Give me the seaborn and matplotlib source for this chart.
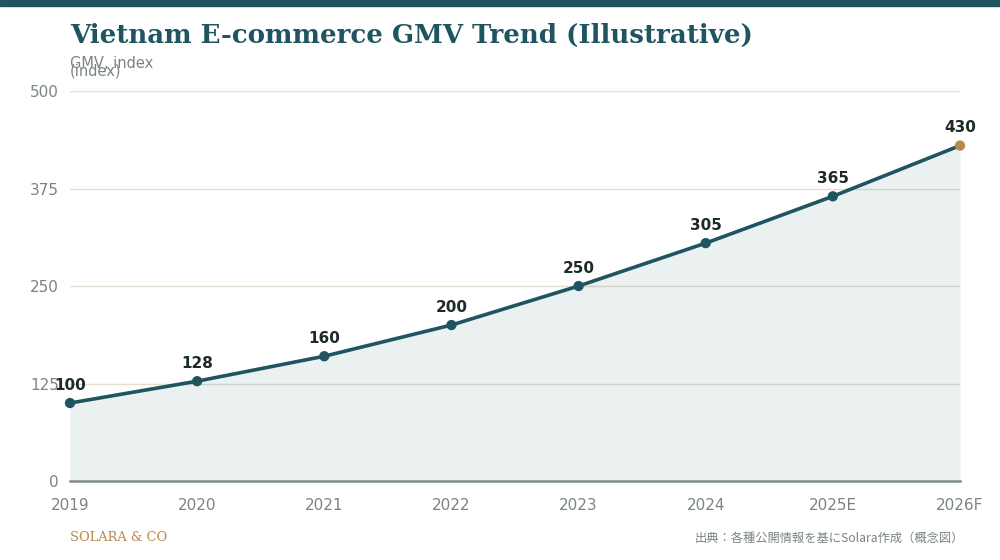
import matplotlib
matplotlib.use('Agg')
import matplotlib.pyplot as plt
import seaborn as sns
import pandas as pd
import numpy as np

# data
years = ['2019', '2020', '2021', '2022', '2023', '2024', '2025E', '2026F']
gmv_index = [100, 128, 160, 200, 250, 305, 365, 430]
y_ticks = [0, 125, 250, 375, 500]

TEAL = '#1f5560'
GOLD = '#b8894a'
GREY = '#7a8580'
GRID = '#e4ded3'

sns.set_theme(style='white')
plt.rcParams['font.family'] = ['DejaVu Sans', 'Noto Sans CJK JP']

df = pd.DataFrame({'pos': np.arange(len(years)), 'gmv': gmv_index})

fig = plt.figure(figsize=(10, 5.6), dpi=100)
ax = fig.add_axes([0.07, 0.141, 0.89, 0.6965])

for t in y_ticks[1:]:
    ax.axhline(t, color=GRID, lw=1, zorder=0)

ax.fill_between(df['pos'], df['gmv'], 0, color=TEAL, alpha=0.085, lw=0, zorder=1)
sns.lineplot(data=df, x='pos', y='gmv', ax=ax, color=TEAL, lw=2.6, zorder=3)
sns.scatterplot(data=df.iloc[:-1], x='pos', y='gmv', ax=ax, color=TEAL, s=55,
                edgecolor='none', zorder=4, clip_on=False)
sns.scatterplot(data=df.iloc[-1:], x='pos', y='gmv', ax=ax, color=GOLD, s=55,
                edgecolor='none', zorder=4, clip_on=False)

for x, v in zip(df['pos'], df['gmv']):
    ax.annotate(str(v), (x, v), xytext=(0, 7.5), textcoords='offset points',
                ha='center', va='bottom', fontsize=11, fontweight='bold',
                color='#1e2a28', zorder=5)

ax.set_xlim(0, len(years) - 1)
ax.set_ylim(0, 500)
ax.set_xticks(df['pos'])
ax.set_xticklabels(years)
ax.set_yticks(y_ticks)
ax.tick_params(axis='both', length=0, labelsize=11, labelcolor=GREY)
ax.tick_params(axis='x', pad=12)
ax.tick_params(axis='y', pad=8)
ax.set_xlabel('')
ax.set_ylabel('')
for s in ['top', 'right', 'left']:
    ax.spines[s].set_visible(False)
ax.spines['bottom'].set_color('#7f8a85')
ax.spines['bottom'].set_linewidth(1.8)

# header / footer
fig.patches.append(plt.Rectangle((0, 0.989), 1, 0.011, transform=fig.transFigure,
                                 color=TEAL, zorder=10))
fig.text(0.07, 0.937, 'Vietnam E-commerce GMV Trend (Illustrative)',
         family='DejaVu Serif', fontweight='bold', fontsize=18.7, color=TEAL,
         va='center')
fig.text(0.07, 0.887, 'GMV, index', fontsize=10.5, color=GREY, va='center')
fig.text(0.07, 0.873, '(index)', fontsize=10.5, color=GREY, va='center')
fig.text(0.07, 0.04, 'SOLARA & CO', family='DejaVu Serif', fontsize=9.4,
         color=GOLD, va='center')
fig.text(0.9635, 0.038, '出典：各種公開情報を基にSolara作成（概念図）',
         family=['Noto Sans CJK JP', 'DejaVu Sans'], fontsize=8.8, color=GREY,
         ha='right', va='center')

fig.savefig('out.png', dpi=100, facecolor='white')
